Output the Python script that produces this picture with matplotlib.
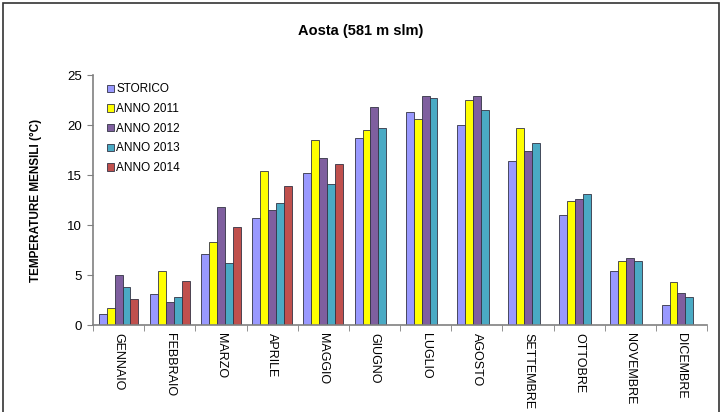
import numpy as np
import matplotlib.pyplot as plt
from matplotlib.patches import Rectangle

plt.rcParams['font.family'] = ['Liberation Sans', 'DejaVu Sans']

mesi = ['GENNAIO', 'FEBBRAIO', 'MARZO', 'APRILE', 'MAGGIO', 'GIUGNO',
        'LUGLIO', 'AGOSTO', 'SETTEMBRE', 'OTTOBRE', 'NOVEMBRE', 'DICEMBRE']

storico = [1.1, 3.1, 7.1, 10.7, 15.2, 18.7, 21.3, 20.0, 16.4, 11.0, 5.4, 2.0]
anno_2011 = [1.7, 5.4, 8.3, 15.4, 18.5, 19.5, 20.6, 22.5, 19.7, 12.4, 6.4, 4.3]
anno_2012 = [5.0, 2.3, 11.8, 11.5, 16.7, 21.8, 22.9, 22.9, 17.4, 12.6, 6.7, 3.2]
anno_2013 = [3.8, 2.8, 6.2, 12.2, 14.1, 19.7, 22.7, 21.5, 18.2, 13.1, 6.4, 2.8]
anno_2014 = [2.6, 4.4, 9.8, 13.9, 16.1, np.nan, np.nan, np.nan, np.nan, np.nan, np.nan, np.nan]

serie = [('STORICO', storico, '#9999ff'),
         ('ANNO 2011', anno_2011, '#ffff00'),
         ('ANNO 2012', anno_2012, '#7f5f9f'),
         ('ANNO 2013', anno_2013, '#4aaac4'),
         ('ANNO 2014', anno_2014, '#c0504d')]

fig = plt.figure(figsize=(7.22, 4.12), dpi=100)
ax = fig.add_axes([93/722, 1 - 325/412, 614/722, 250/412])

# outer frame of the chart
fig.add_artist(Rectangle((3/722, -0.02), 716/722, 1.02 - 3/412, transform=fig.transFigure,
                         fill=False, edgecolor='#333333', linewidth=1.2, zorder=10))

x = np.arange(len(mesi))
w = 0.155
for i, (nome, vals, col) in enumerate(serie):
    ax.bar(x + (i - 2) * w, vals, width=w, color=col, edgecolor='#333344',
           linewidth=0.6, label=nome)

ax.set_xlim(-0.5, len(mesi) - 0.5)
ax.set_ylim(0, 25)
ax.set_yticks(range(0, 26, 5))
ax.set_xticks(np.arange(len(mesi) + 1) - 0.5, minor=True)
ax.set_xticks(x)
ax.set_xticklabels(mesi, rotation=270, fontsize=9, va='top', ha='center')
ax.tick_params(axis='x', which='major', length=0, pad=6)
ax.tick_params(axis='x', which='minor', length=4, color='#808080', direction='out')
ax.tick_params(axis='y', length=4, color='#808080', labelsize=9.5, pad=4)

for s in ['top', 'right']:
    ax.spines[s].set_visible(False)
for s in ['left', 'bottom']:
    ax.spines[s].set_color('#808080')
    ax.spines[s].set_linewidth(1.2)

ax.set_ylabel('TEMPERATURE MENSILI (°C)', fontsize=8.5, fontweight='bold', labelpad=18)
fig.text(0.5, 1 - 31/412, 'Aosta (581 m slm)', ha='center', va='center',
         fontsize=10.5, fontweight='bold')

leg = ax.legend(loc='upper left', bbox_to_anchor=(0.015, 0.985), frameon=False,
                fontsize=8.5, handlelength=0.6, handleheight=0.6, handletextpad=0.2,
                labelspacing=0.65, borderaxespad=0)

fig.savefig('out.png', dpi=100)
